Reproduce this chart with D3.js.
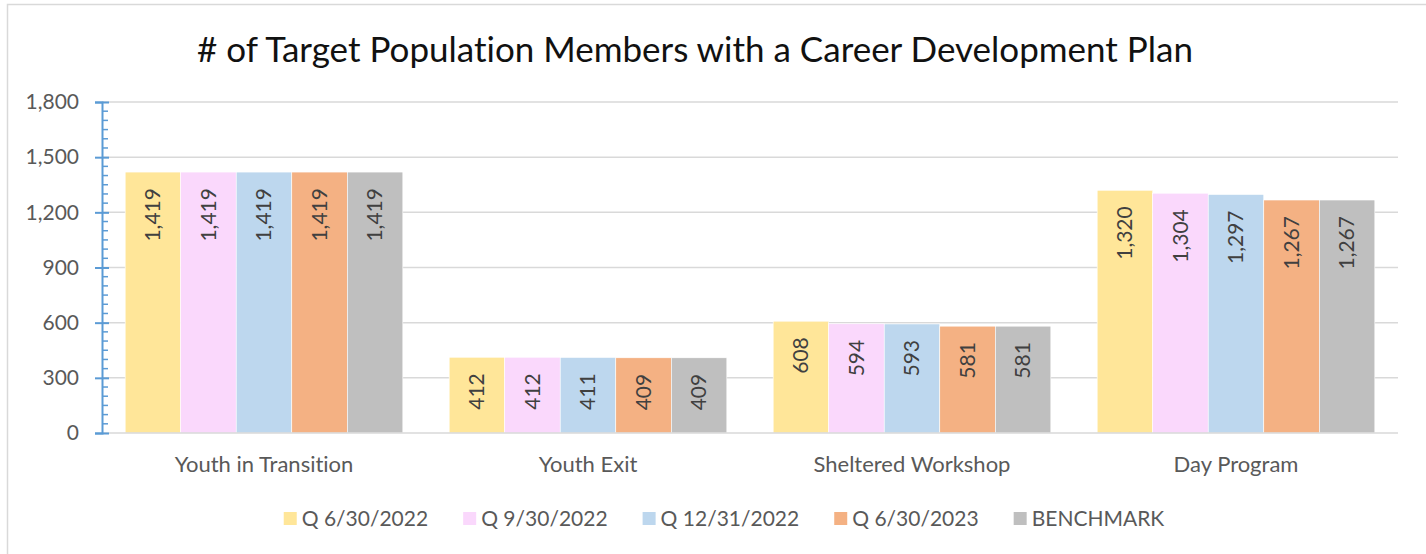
<!DOCTYPE html>
<html>
<head>
<meta charset="utf-8">
<script src="https://cdn.jsdelivr.net/npm/d3@7"></script>
<style>
  body { margin: 0; background: #fff; }
  svg { display: block; font-family: Lato, "Liberation Sans", sans-serif; font-variant-ligatures: none; }
</style>
</head>
<body>
<div id="chart"></div>
<script>
// chart data
const categories = ['Youth in Transition', 'Youth Exit', 'Sheltered Workshop', 'Day Program'];
const seriesNames = ['Q 6/30/2022', 'Q 9/30/2022', 'Q 12/31/2022', 'Q 6/30/2023', 'BENCHMARK'];
const q2022_06 = [1419, 412, 608, 1320];
const q2022_09 = [1419, 412, 594, 1304];
const q2022_12 = [1419, 411, 593, 1297];
const q2023_06 = [1419, 409, 581, 1267];
const benchmark = [1419, 409, 581, 1267];
const yTicks = [0, 300, 600, 900, 1200, 1500, 1800];
const colors = ['#FFE699', '#FAD8FC', '#BDD7EE', '#F4B183', '#BFBFBF'];

const seriesValues = [q2022_06, q2022_09, q2022_12, q2023_06, benchmark];

const width = 1426, height = 554;
const margin = { top: 102, bottom: 121, left: 102, right: 28 };

const svg = d3.select('#chart').append('svg')
    .attr('width', width)
    .attr('height', height);

// outer chart border
svg.append('rect')
    .attr('x', 7.5).attr('y', 4.5)
    .attr('width', width).attr('height', height)
    .attr('fill', 'none')
    .attr('stroke', '#d9d9d9')
    .attr('stroke-width', 1.5);

// title
svg.append('text')
    .attr('x', 695).attr('y', 62)
    .attr('text-anchor', 'middle')
    .style('font-size', '35px')
    .style('fill', '#111')
    .text('# of Target Population Members with a Career Development Plan');

const xScale = d3.scaleBand()
    .domain(categories)
    .range([margin.left, width - margin.right])
    .paddingInner(0.143)
    .paddingOuter(0.0715);

const xSub = d3.scaleBand()
    .domain(seriesNames)
    .range([0, xScale.bandwidth()]);

const yScale = d3.scaleLinear()
    .domain([0, 1800])
    .range([height - margin.bottom, margin.top]);

// gridlines
svg.append('g')
    .selectAll('line')
    .data(yTicks.slice(1))
    .join('line')
    .attr('x1', margin.left).attr('x2', width - margin.right)
    .attr('y1', d => yScale(d)).attr('y2', d => yScale(d))
    .attr('stroke', '#d9d9d9')
    .attr('stroke-width', 1.5);

// bars
const groups = svg.append('g')
    .selectAll('g')
    .data(categories)
    .join('g')
    .attr('transform', d => `translate(${xScale(d)},0)`);

const cells = groups.selectAll('g')
    .data((c, i) => seriesNames.map((s, j) => ({ series: s, value: seriesValues[j][i], color: colors[j] })))
    .join('g');

cells.append('rect')
    .attr('x', d => xSub(d.series))
    .attr('y', d => yScale(d.value))
    .attr('width', xSub.bandwidth())
    .attr('height', d => yScale(0) - yScale(d.value))
    .attr('fill', d => d.color)
    .attr('stroke', '#fff')
    .attr('stroke-width', 0.6);

cells.append('text')
    .attr('transform', d => `translate(${xSub(d.series) + xSub.bandwidth() / 2},${yScale(d.value) + 16})rotate(-90)`)
    .attr('text-anchor', 'end')
    .attr('dy', '0.35em')
    .style('font-size', '21px')
    .style('fill', '#404040')
    .text(d => d3.format(',')(d.value));

// x baseline
svg.append('line')
    .attr('x1', margin.left).attr('x2', width - margin.right)
    .attr('y1', yScale(0)).attr('y2', yScale(0))
    .attr('stroke', '#d9d9d9')
    .attr('stroke-width', 1.5);

// x labels
svg.append('g')
    .selectAll('text')
    .data(categories)
    .join('text')
    .attr('x', d => xScale(d) + xScale.bandwidth() / 2)
    .attr('y', 472)
    .attr('text-anchor', 'middle')
    .style('font-size', '22px')
    .style('fill', '#595959')
    .text(d => d);

// y axis (blue, with minor ticks)
const axisColor = '#5B9BD5';
const yAxis = svg.append('g')
    .attr('transform', `translate(${margin.left},0)`)
    .call(d3.axisLeft(yScale).tickValues(yTicks).tickFormat(d3.format(',')).tickSize(7).tickPadding(16));
yAxis.select('.domain').attr('stroke', axisColor).attr('stroke-width', 2);
yAxis.selectAll('.tick line').attr('stroke', axisColor).attr('stroke-width', 2).attr('x2', 7).attr('x1', -7);
yAxis.selectAll('.tick text').style('font-size', '21px').style('fill', '#595959').style('font-family', 'Lato, sans-serif');

svg.append('g')
    .selectAll('line')
    .data(d3.range(0, 1801, 50).filter(v => v % 300 !== 0))
    .join('line')
    .attr('x1', margin.left).attr('x2', margin.left + 6)
    .attr('y1', d => yScale(d)).attr('y2', d => yScale(d))
    .attr('stroke', axisColor)
    .attr('stroke-width', 1.5);

// legend
const legend = svg.append('g');
const items = legend.selectAll('g')
    .data(seriesNames)
    .join('g');
items.append('rect')
    .attr('width', 13).attr('height', 13)
    .attr('y', -14)
    .attr('fill', (d, i) => colors[i]);
items.append('text')
    .attr('x', 18)
    .style('font-size', '21px')
    .style('fill', '#595959')
    .text(d => d);

let lx = 0;
const gap = 35;
items.each(function () {
    const w = 18 + this.querySelector('text').getComputedTextLength();
    d3.select(this).attr('transform', `translate(${lx},0)`);
    lx += w + gap;
});
lx -= gap;
legend.attr('transform', `translate(${(288 + 1160) / 2 - lx / 2},526)`);
</script>
</body>
</html>
